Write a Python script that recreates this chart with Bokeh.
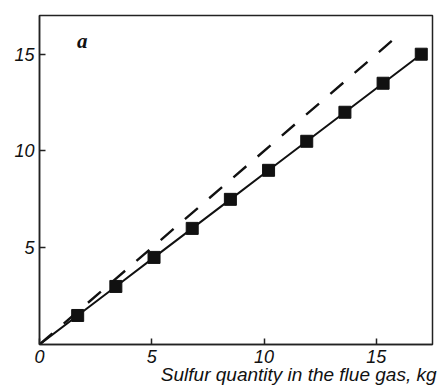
from bokeh.plotting import figure
from bokeh.models import FixedTicker, Label, Range1d, Title
from bokeh.embed import file_html
from bokeh.resources import INLINE

# Data
sulfur_x = [1.7, 3.4, 5.1, 6.8, 8.5, 10.2, 11.9, 13.6, 15.3, 17.0]
captured_y = [1.5, 3.0, 4.5, 6.0, 7.5, 9.0, 10.5, 12.0, 13.5, 15.0]
theory_x = [0, 16]
theory_y = [0, 16]
x_ticks = [0, 5, 10, 15]
y_ticks = [5, 10, 15]
x_title = "Sulfur quantity in the flue gas, kg"
panel_label = "a"

p = figure(width=438, height=386, output_backend="svg", toolbar_location=None,
           x_range=Range1d(0, 17.5), y_range=Range1d(0, 17),
           min_border_left=39, min_border_right=6, min_border_top=15, min_border_bottom=42)
p.background_fill_color = "white"
p.border_fill_color = "white"
p.outline_line_color = "#222222"
p.outline_line_width = 1.5
p.xgrid.visible = False
p.ygrid.visible = False

for ax in (p.xaxis[0], p.yaxis[0]):
    ax.axis_line_color = "#222222"
    ax.axis_line_width = 1.5
    ax.major_tick_in = 6
    ax.major_tick_out = 0
    ax.major_tick_line_color = "#222222"
    ax.major_tick_line_width = 1.5
    ax.minor_tick_line_color = None
    ax.major_label_text_font = "Liberation Sans"
    ax.major_label_text_font_style = "italic"
    ax.major_label_text_font_size = "18px"
    ax.major_label_text_color = "#111111"

p.xaxis.ticker = FixedTicker(ticks=x_ticks)
p.yaxis.ticker = FixedTicker(ticks=y_ticks)
p.xaxis.major_label_standoff = 5
p.yaxis.major_label_standoff = 5

# dashed theoretical line
p.line(theory_x, theory_y, line_color="#111111", line_width=2.4, line_dash="17 15")
# solid measured line with squares
p.line([0] + sulfur_x, [0] + captured_y, line_color="#111111", line_width=2)
p.scatter(sulfur_x, captured_y, marker="square", size=12, fill_color="#111111", line_color="#111111")

p.add_layout(Title(text=x_title, align="right", offset=-4, standoff=-8,
                   text_font="Liberation Sans", text_font_style="italic",
                   text_font_size="19px", text_color="#111111"), "below")
p.add_layout(Label(x=1.9, y=15.7, text=panel_label, text_align="center",
                   text_baseline="alphabetic", text_font="Liberation Serif",
                   text_font_style="bold italic", text_font_size="21px",
                   text_color="#111111"))

open("out.html", "w").write(file_html(p, INLINE))
